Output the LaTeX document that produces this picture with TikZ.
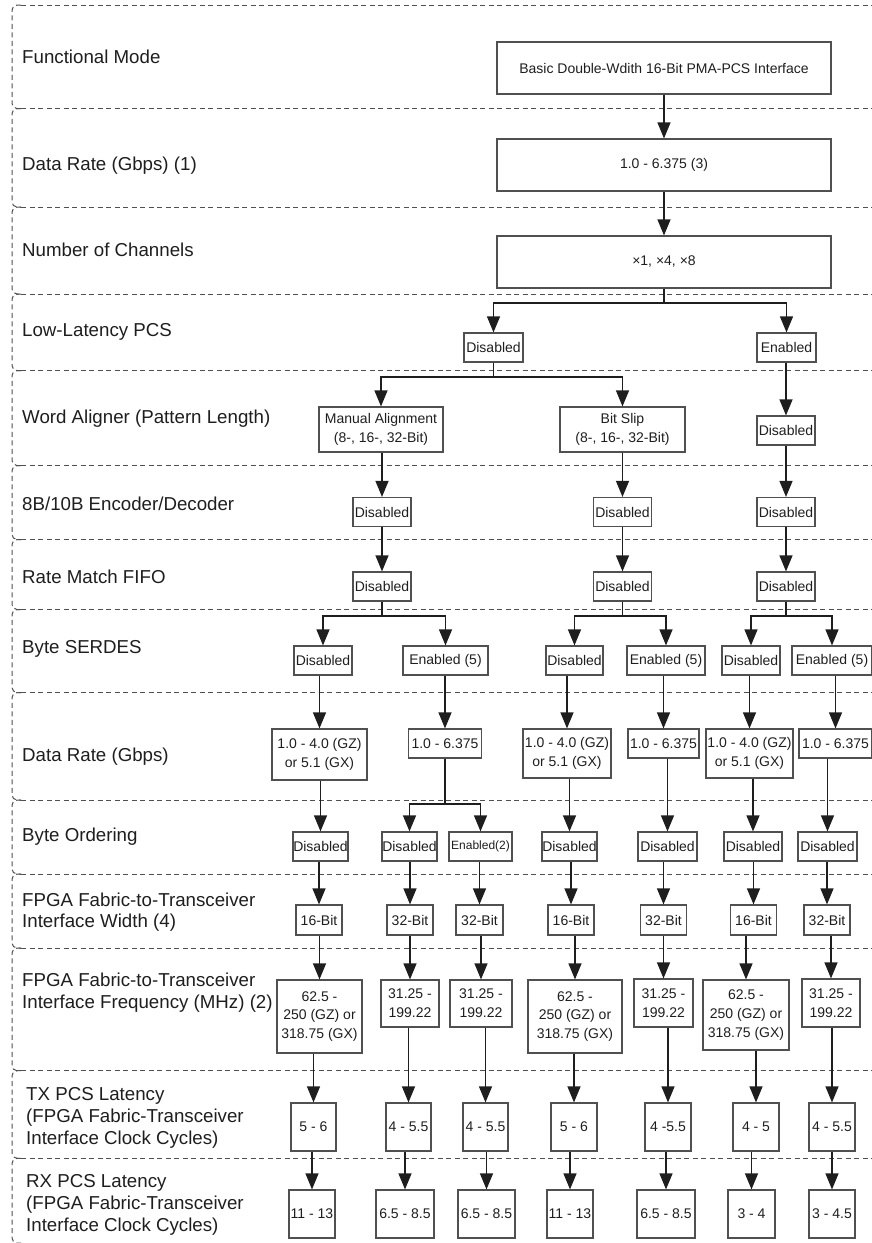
\documentclass[tikz,border=0pt]{standalone}
\usepackage{fontspec}
\setmainfont{Liberation Sans}
\usetikzlibrary{arrows.meta}
\definecolor{frame}{RGB}{80,80,80}
\definecolor{ink}{RGB}{30,30,30}

\begin{document}
\begin{tikzpicture}[x=1pt, y=-1pt,
  cell/.style={draw=frame, line width=1.2pt, inner sep=0pt, align=center, text=ink,
    font=\fontsize{14}{18.7}\selectfont, minimum height=29pt},
  tag/.style={anchor=west, align=left, inner sep=0pt, text=ink,
    font=\fontsize{18.7}{21.7}\selectfont},
  band/.style={draw=frame, line width=1pt, dash pattern=on 5pt off 3.5pt},
  arr/.style={draw=ink, line width=1.2pt, -{Triangle[length=16pt,width=13pt]}},
  wire/.style={draw=ink, line width=1.2pt}]
  \useasboundingbox (0,0) rectangle (872,1243);

  % row bands
  \foreach \t/\b in {5/108.5, 108.5/207, 207/294, 294/370.5, 370.5/465.5, 465.5/539.5,
      539.5/609.5, 609.5/692.5, 692.5/800, 800/874, 874/948, 948/1070.7,
      1070.7/1158.3, 1158.3/1243}
    \draw[band, rounded corners=5pt] (21,\t) -- (12,\t) -- (12,\b) -- (21,\b);
  \foreach \t in {5, 108.5, 207, 294, 370.5, 465.5, 539.5, 609.5, 692.5, 800, 874,
      948, 1070.7, 1158.3}
    \draw[band] (21,\t) -- (872,\t);

  % row labels
  \node[tag] (lfm) at (22,57) {Functional Mode};
  \node[tag] (ldr) at (22,166) {Data Rate (Gbps) (1)};
  \node[tag] (lch) at (22,250) {Number of Channels};
  \node[tag] (lll) at (22,332) {Low-Latency PCS};
  \node[tag] (lwa) at (22,419) {Word Aligner (Pattern Length)};
  \node[tag] (len) at (22,504) {8B/10B Encoder/Decoder};
  \node[tag] (lrm) at (22,577) {Rate Match FIFO};
  \node[tag] (lsd) at (22,649) {Byte SERDES};
  \node[tag] (lrate) at (22,757) {Data Rate (Gbps)};
  \node[tag] (lbo) at (22,837) {Byte Ordering};
  \node[tag] (lwi) at (22,912) {FPGA Fabric-to-Transceiver\\Interface Width (4)};
  \node[tag] (lfr) at (22,993) {FPGA Fabric-to-Transceiver\\Interface Frequency (MHz) (2)};
  \node[tag] (ltx) at (26,1118) {TX PCS Latency\\(FPGA Fabric-Transceiver\\Interface Clock Cycles)};
  \node[tag] (lrx) at (26,1205) {RX PCS Latency\\(FPGA Fabric-Transceiver\\Interface Clock Cycles)};

  % top chain
  \node[cell, minimum width=334pt, minimum height=52pt] (fm) at (664,68) {Basic Double-Wdith 16-Bit PMA-PCS Interface};
  \node[cell, minimum width=334pt, minimum height=52pt] (dr) at (664,165) {1.0 - 6.375 (3)};
  \node[cell, minimum width=334pt, minimum height=52pt] (ch) at (664,262) {×1, ×4, ×8};

  % low-latency PCS
  \node[cell, minimum width=59pt] (lldis) at (493.5,347.5) {Disabled};
  \node[cell, minimum width=59pt] (llen) at (786.5,347.5) {Enabled};

  % word aligner
  \node[cell, minimum width=124pt, minimum height=45pt] (wama) at (381,429.5) {Manual Alignment\\(8-, 16-, 32-Bit)};
  \node[cell, minimum width=125pt, minimum height=45pt] (wabs) at (622.5,429.5) {Bit Slip\\(8-, 16-, 32-Bit)};
  \node[cell, minimum width=58pt] (wadis) at (786,430.5) {Disabled};

  % 8B/10B and rate match
  \node[cell, minimum width=58pt] (encA) at (382,512) {Disabled};
  \node[cell, minimum width=58pt] (encB) at (622.5,512) {Disabled};
  \node[cell, minimum width=58pt] (encC) at (786,512) {Disabled};
  \node[cell, minimum width=58pt] (rmA) at (382,586.5) {Disabled};
  \node[cell, minimum width=58pt] (rmB) at (622.5,586.5) {Disabled};
  \node[cell, minimum width=58pt] (rmC) at (786,586.5) {Disabled};

  % byte SERDES
  \node[cell, minimum width=58pt] (sdA) at (323,660.5) {Disabled};
  \node[cell, minimum width=85pt] (seA) at (445.5,660.5) {Enabled (5)};
  \node[cell, minimum width=57pt] (sdB) at (574.5,660.5) {Disabled};
  \node[cell, minimum width=78pt] (seB) at (666,660.5) {Enabled (5)};
  \node[cell, minimum width=58pt] (sdC) at (751,660.5) {Disabled};
  \node[cell, minimum width=80pt] (seC) at (832,660.5) {Enabled (5)};

  % data rate
  \node[cell, minimum width=95pt, minimum height=51pt] (drA) at (319.5,754.5) {1.0 - 4.0 (GZ)\\or 5.1 (GX)};
  \node[cell, minimum width=73pt] (drB) at (445,743.5) {1.0 - 6.375};
  \node[cell, minimum width=88pt, minimum height=49pt] (drC) at (567,753.5) {1.0 - 4.0 (GZ)\\or 5.1 (GX)};
  \node[cell, minimum width=71pt] (drD) at (663.5,743.5) {1.0 - 6.375};
  \node[cell, minimum width=87pt, minimum height=49pt] (drE) at (749.5,753.5) {1.0 - 4.0 (GZ)\\or 5.1 (GX)};
  \node[cell, minimum width=73pt] (drF) at (835.5,743.5) {1.0 - 6.375};

  % byte ordering
  \node[cell, minimum width=55pt] (boA) at (320.5,846.5) {Disabled};
  \node[cell, minimum width=55pt] (boB) at (409.5,846.5) {Disabled};
  \node[cell, minimum width=63pt, font=\fontsize{12}{14}\selectfont] (boC) at (480.5,846.5) {Enabled(2)};
  \node[cell, minimum width=55pt] (boD) at (569.5,846.5) {Disabled};
  \node[cell, minimum width=59pt] (boE) at (667.5,846.5) {Disabled};
  \node[cell, minimum width=58pt] (boF) at (753,846.5) {Disabled};
  \node[cell, minimum width=59pt] (boG) at (827.5,846.5) {Disabled};

  % interface width
  \node[cell, minimum width=46pt, minimum height=30pt] (wiA) at (319,920) {16-Bit};
  \node[cell, minimum width=46pt, minimum height=30pt] (wiB) at (410,920) {32-Bit};
  \node[cell, minimum width=47pt, minimum height=30pt] (wiC) at (479.5,920) {32-Bit};
  \node[cell, minimum width=46pt, minimum height=30pt] (wiD) at (571,920) {16-Bit};
  \node[cell, minimum width=46pt, minimum height=30pt] (wiE) at (663.5,920) {32-Bit};
  \node[cell, minimum width=46pt, minimum height=30pt] (wiF) at (753.5,920) {16-Bit};
  \node[cell, minimum width=46pt, minimum height=30pt] (wiG) at (827,920) {32-Bit};

  % interface frequency
  \node[cell, minimum width=85pt, minimum height=73pt] (frA) at (319.5,1016.5) {62.5 -\\250 (GZ) or\\318.75 (GX)};
  \node[cell, minimum width=58pt, minimum height=47pt] (frB) at (410,1003.5) {31.25 -\\199.22};
  \node[cell, minimum width=62pt, minimum height=47pt] (frC) at (481,1003.5) {31.25 -\\199.22};
  \node[cell, minimum width=94pt, minimum height=73pt] (frD) at (575,1016.5) {62.5 -\\250 (GZ) or\\318.75 (GX)};
  \node[cell, minimum width=59pt, minimum height=48pt] (frE) at (663.5,1003) {31.25 -\\199.22};
  \node[cell, minimum width=86pt, minimum height=70pt] (frF) at (746,1015) {62.5 -\\250 (GZ) or\\318.75 (GX)};
  \node[cell, minimum width=58pt, minimum height=48pt] (frG) at (831,1003) {31.25 -\\199.22};

  % TX latency
  \node[cell, minimum width=45pt, minimum height=48pt] (txA) at (313.5,1127) {5 - 6};
  \node[cell, minimum width=45pt, minimum height=48pt] (txB) at (408.5,1127) {4 - 5.5};
  \node[cell, minimum width=45pt, minimum height=48pt] (txC) at (485.5,1127) {4 - 5.5};
  \node[cell, minimum width=46pt, minimum height=48pt] (txD) at (574,1127) {5 - 6};
  \node[cell, minimum width=46pt, minimum height=48pt] (txE) at (668,1127) {4 -5.5};
  \node[cell, minimum width=46pt, minimum height=48pt] (txF) at (756,1127) {4 - 5};
  \node[cell, minimum width=46pt, minimum height=48pt] (txG) at (832,1127) {4 - 5.5};

  % RX latency
  \node[cell, minimum width=46pt, minimum height=48pt] (rxA) at (312,1214) {11 - 13};
  \node[cell, minimum width=58pt, minimum height=48pt] (rxB) at (405,1214) {6.5 - 8.5};
  \node[cell, minimum width=57pt, minimum height=48pt] (rxC) at (486.5,1214) {6.5 - 8.5};
  \node[cell, minimum width=46pt, minimum height=48pt] (rxD) at (570,1214) {11 - 13};
  \node[cell, minimum width=58pt, minimum height=48pt] (rxE) at (666,1214) {6.5 - 8.5};
  \node[cell, minimum width=47pt, minimum height=48pt] (rxF) at (751.5,1214) {3 - 4};
  \node[cell, minimum width=46pt, minimum height=48pt] (rxG) at (832,1214) {3 - 4.5};

  % straight arrows
  \foreach \a/\b in {fm/dr, dr/ch, llen/wadis, wama/encA, wabs/encB, wadis/encC,
      encA/rmA, encB/rmB, encC/rmC, sdA/drA, seA/drB, sdB/drC, seB/drD, sdC/drE, seC/drF,
      drA/boA, drC/boD, drD/boE, drE/boF, drF/boG,
      boA/wiA, boB/wiB, boC/wiC, boD/wiD, boE/wiE, boF/wiF, boG/wiG,
      wiA/frA, wiB/frB, wiC/frC, wiD/frD, wiE/frE, wiF/frF, wiG/frG,
      frA/txA, frB/txB, frC/txC, frD/txD, frE/txE, frF/txF, frG/txG,
      txA/rxA, txB/rxB, txC/rxC, txD/rxD, txE/rxE, txF/rxF, txG/rxG}
    \draw[arr] (\b.north |- \a.south) -- (\b.north);

  % forks
  \coordinate (j1) at (664,303);
  \coordinate (j2) at (493.5,377);
  \coordinate (j3) at (382,616);
  \coordinate (j4) at (622.5,616);
  \coordinate (j5) at (786,616);
  \coordinate (j6) at (445,804);
  \draw[wire] (ch.south) -- (j1);
  \draw[arr] (j1) -| (lldis.north);
  \draw[arr] (j1) -| (llen.north);
  \draw[wire] (lldis.south) -- (j2);
  \draw[arr] (j2) -| (wama.north);
  \draw[arr] (j2) -| (wabs.north);
  \draw[wire] (rmA.south) -- (j3);
  \draw[arr] (j3) -| (sdA.north);
  \draw[arr] (j3) -| (seA.north);
  \draw[wire] (rmB.south) -- (j4);
  \draw[arr] (j4) -| (sdB.north);
  \draw[arr] (j4) -| (seB.north);
  \draw[wire] (rmC.south) -- (j5);
  \draw[arr] (j5) -| (sdC.north);
  \draw[arr] (j5) -| (seC.north);
  \draw[wire] (drB.south) -- (j6);
  \draw[arr] (j6) -| (boB.north);
  \draw[arr] (j6) -| (boC.north);
\end{tikzpicture}
\end{document}
